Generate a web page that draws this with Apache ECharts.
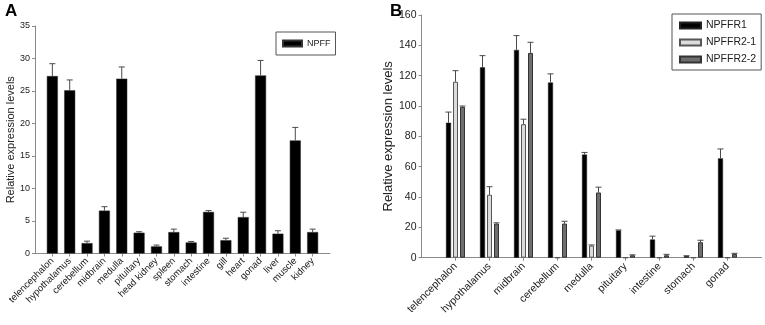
<!DOCTYPE html>
<html><head><meta charset="utf-8">
<script src="https://cdn.jsdelivr.net/npm/echarts@6/dist/echarts.min.js"></script>
<style>html,body{margin:0;padding:0;background:#fff}#c{width:765px;height:325px}</style>
</head><body><div id="c"></div>
<script>
const catsA = ['telencephalon','hypothalamus','cerebellum','midbrain','medulla','pituitary','head kidney','spleen','stomach','intestine','gill','heart','gonad','liver','muscle','kidney'];
const npffVals = [27.3, 25.1, 1.6, 6.6, 26.9, 3.2, 1.1, 3.3, 1.7, 6.4, 2.05, 5.6, 27.4, 3.05, 17.4, 3.3];
const npffErr  = [1.9, 1.6, 0.3, 0.6, 1.8, 0.15, 0.2, 0.45, 0.15, 0.2, 0.3, 0.75, 2.3, 0.45, 2.0, 0.45];
const ticksA = [0, 5, 10, 15, 20, 25, 30, 35];

const catsB = ['telencephalon','hypothalamus','midbrain','cerebellum','medulla','pituitary','intestine','stomach','gonad'];
const r1Vals  = [89, 125.5, 137, 115.5, 68, 18, 12, 1.1, 65.5];
const r1Err   = [7, 7.7, 9.4, 5.7, 1.4, 0.3, 2.2, 0.2, 6.2];
const r21Vals = [116, 41.5, 88, 0, 8, 0, 0, 0, 0];
const r21Err  = [7.3, 5.3, 3.3, 0, 0.4, 0, 0, 0, 0];
const r22Vals = [99.5, 22.5, 135, 22.5, 43, 1.6, 1.6, 10.2, 2.4];
const r22Err  = [0.5, 0.5, 7, 1.5, 3.5, 0.3, 0.6, 1.3, 0.5];
const ticksB = [0, 20, 40, 60, 80, 100, 120, 140, 160];

const FONT = '"Liberation Sans", Arial, sans-serif';
const AXIS = '#8a8a8a';
const TXT = '#222';
const ERR = '#4a4a4a';

function pad(arr){ return [null].concat(arr, [null]); }
function padCat(arr){ return [''].concat(arr, ['']); }
function errData(vals, errs){ return vals.map((v,i)=>[i+1, v, errs[i]]); }
function errRender(offset){
  return function(params, api){
    const x = api.value(0), v = api.value(1), e = api.value(2);
    if (!e) return;
    const p0 = api.coord([x, v]);
    const p1 = api.coord([x, v + e]);
    const cx = p0[0] + offset;
    return {type:'group', children:[
      {type:'line', shape:{x1:cx, y1:p0[1], x2:cx, y2:p1[1]}, style:{stroke:ERR, lineWidth:1}},
      {type:'line', shape:{x1:cx-3, y1:p1[1], x2:cx+3, y2:p1[1]}, style:{stroke:ERR, lineWidth:1}}
    ]};
  };
}
const tickShow = n => (i) => i > 0 && i < n + 1;

const bw = 5, bgap = 2;
const option = {
  animation: false,
  backgroundColor: '#fff',
  textStyle: {fontFamily: FONT},
  graphic: [
    {type:'text', left:5, top:3, style:{text:'A', font:'bold 17px ' + FONT, fill:'#000'}},
    {type:'text', left:390, top:3, style:{text:'B', font:'bold 17px ' + FONT, fill:'#000'}}
  ],
  legend: [
    {data:['NPFF'], left:276, top:32, orient:'vertical', padding:[7,5,7,6],
     borderColor:'#555', borderWidth:1, itemWidth:19, itemHeight:6, itemGap:0, icon:'rect',
     textStyle:{fontSize:9, color:TXT, fontFamily:FONT}},
    {data:['NPFFR1','NPFFR2-1','NPFFR2-2'], left:672, top:14, orient:'vertical', padding:[6,5,5,7],
     borderColor:'#555', borderWidth:1, itemWidth:21, itemHeight:6, itemGap:6, icon:'rect',
     textStyle:{fontSize:10.5, color:TXT, fontFamily:FONT}}
  ],
  grid: [
    {left:35, top:26, width:295, height:227.5},
    {left:421.5, top:15, width:340, height:242.7}
  ],
  xAxis: [
    {type:'category', gridIndex:0, data:padCat(catsA), boundaryGap:false,
     axisLine:{lineStyle:{color:AXIS}},
     axisTick:{interval:tickShow(catsA.length), length:3, lineStyle:{color:AXIS}},
     axisLabel:{interval:0, rotate:45, fontSize:9.5, color:TXT, margin:6, fontFamily:FONT}},
    {type:'category', gridIndex:1, data:padCat(catsB), boundaryGap:false,
     axisLine:{lineStyle:{color:AXIS}},
     axisTick:{interval:tickShow(catsB.length), length:3, lineStyle:{color:AXIS}},
     axisLabel:{interval:0, rotate:45, fontSize:10.5, color:TXT, margin:7, fontFamily:FONT}}
  ],
  yAxis: [
    {type:'value', gridIndex:0, min:ticksA[0], max:ticksA[ticksA.length-1], interval:5,
     name:'Relative expression levels', nameLocation:'middle', nameGap:18,
     nameTextStyle:{fontSize:11, color:TXT, fontFamily:FONT},
     axisLine:{show:true, lineStyle:{color:AXIS}},
     axisTick:{show:true, length:3, lineStyle:{color:AXIS}},
     axisLabel:{fontSize:9, color:TXT, margin:5, fontFamily:FONT},
     splitLine:{show:false}},
    {type:'value', gridIndex:1, min:ticksB[0], max:ticksB[ticksB.length-1], interval:20,
     name:'Relative expression levels', nameLocation:'middle', nameGap:17,
     nameTextStyle:{fontSize:13, color:TXT, fontFamily:FONT},
     axisLine:{show:true, lineStyle:{color:AXIS}},
     axisTick:{show:true, length:3, lineStyle:{color:AXIS}},
     axisLabel:{fontSize:10.5, color:TXT, margin:5, fontFamily:FONT},
     splitLine:{show:false}}
  ],
  series: [
    {name:'NPFF', type:'bar', xAxisIndex:0, yAxisIndex:0, data:pad(npffVals), barWidth:11,
     itemStyle:{color:'#000', borderColor:'#333', borderWidth:0.5}},
    {type:'custom', xAxisIndex:0, yAxisIndex:0, data:errData(npffVals, npffErr),
     renderItem:errRender(0), z:5, silent:true},

    {name:'NPFFR1', type:'bar', xAxisIndex:1, yAxisIndex:1, data:pad(r1Vals), barWidth:bw, barGap:(bgap/bw*100)+'%',
     itemStyle:{color:'#000', borderColor:'#222', borderWidth:0.5}},
    {name:'NPFFR2-1', type:'bar', xAxisIndex:1, yAxisIndex:1, data:pad(r21Vals), barWidth:bw, barGap:(bgap/bw*100)+'%',
     itemStyle:{color:'#dcdcdc', borderColor:'#555', borderWidth:1}},
    {name:'NPFFR2-2', type:'bar', xAxisIndex:1, yAxisIndex:1, data:pad(r22Vals), barWidth:bw, barGap:(bgap/bw*100)+'%',
     itemStyle:{color:'#6e6e6e', borderColor:'#333', borderWidth:1}},
    {type:'custom', xAxisIndex:1, yAxisIndex:1, data:errData(r1Vals, r1Err), renderItem:errRender(-(bw+bgap)), z:5, silent:true},
    {type:'custom', xAxisIndex:1, yAxisIndex:1, data:errData(r21Vals, r21Err), renderItem:errRender(0), z:5, silent:true},
    {type:'custom', xAxisIndex:1, yAxisIndex:1, data:errData(r22Vals, r22Err), renderItem:errRender(bw+bgap), z:5, silent:true}
  ]
};
const chart = echarts.init(document.getElementById('c'), null, {renderer:'canvas'});
chart.setOption(option);
</script>
</body></html>
